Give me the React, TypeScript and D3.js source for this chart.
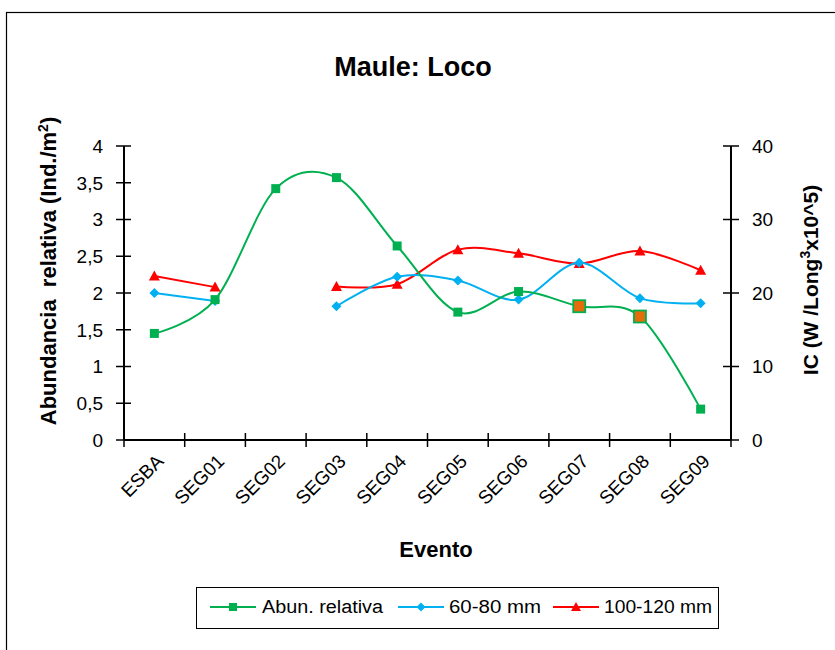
import React from "react";
import * as d3 from "d3";

const categories = ["ESBA", "SEG01", "SEG02", "SEG03", "SEG04", "SEG05", "SEG06", "SEG07", "SEG08", "SEG09"];
const abundancia: (number | null)[] = [1.45, 1.91, 3.42, 3.57, 2.64, 1.74, 2.02, 1.82, 1.68, 0.42];
const ic6080: (number | null)[] = [20.0, 18.9, null, 18.2, 22.2, 21.7, 19.1, 24.1, 19.3, 18.6];
const ic100120: (number | null)[] = [22.3, 20.8, null, 20.9, 21.2, 25.9, 25.4, 24.0, 25.7, 23.1];
const highlighted = ["SEG07", "SEG08"];
const leftTicks = [0, 0.5, 1, 1.5, 2, 2.5, 3, 3.5, 4];
const rightTicks = [0, 10, 20, 30, 40];
const seriesNames = ["Abun. relativa", "60-80 mm", "100-120 mm"];

const GREEN = "#00B050";
const BLUE = "#00B0F0";
const RED = "#FF0000";
const ORANGE = "#E46C0A";
const FONT = "'Liberation Sans', Arial, sans-serif";

export default function App() {
  const left = 124, right = 731, top = 146, bottom = 440;
  const x = d3.scaleBand<string>().domain(categories).range([left, right]);
  const cx = (c: string) => (x(c) as number) + x.bandwidth() / 2;
  const yL = d3.scaleLinear().domain([0, 4]).range([bottom, top]);
  const yR = d3.scaleLinear().domain([0, 40]).range([bottom, top]);

  type P = { c: string; v: number | null };
  const mk = (arr: (number | null)[]): P[] => categories.map((c, i) => ({ c, v: arr[i] }));
  const lineGen = (y: d3.ScaleLinear<number, number>) =>
    d3
      .line<P>()
      .defined((d) => d.v !== null)
      .x((d) => cx(d.c))
      .y((d) => y(d.v as number))
      .curve(d3.curveCardinal.tension(0));

  const green = mk(abundancia);
  const blue = mk(ic6080);
  const red = mk(ic100120);

  const fmt = (v: number) => String(v).replace(".", ",");

  const square = (px: number, py: number, s: number, fill: string, stroke?: string, key?: any) => (
    <rect key={key} x={px - s / 2} y={py - s / 2} width={s} height={s} fill={fill} stroke={stroke || "none"} strokeWidth={stroke ? 1.8 : 0} />
  );
  const diamond = (px: number, py: number, s: number, key?: any) => (
    <path key={key} d={`M${px},${py - s / 2}L${px + s / 2},${py}L${px},${py + s / 2}L${px - s / 2},${py}Z`} fill={BLUE} />
  );
  const triangle = (px: number, py: number, s: number, key?: any) => (
    <path key={key} d={`M${px},${py - s / 2 - 1}L${px + s / 2 + 1},${py + s / 2}L${px - s / 2 - 1},${py + s / 2}Z`} fill={RED} />
  );

  const legendY = 607;

  return (
    <svg width={835} height={650} style={{ position: "absolute", left: 0, top: 0, background: "#fff" }} fontFamily={FONT}>
      <rect x={6.5} y={12.5} width={840} height={660} fill="#fff" stroke="#000" strokeWidth={1.2} />
      <text x={413} y={76} textAnchor="middle" fontWeight="bold" fontSize={27}>
        Maule: Loco
      </text>

      {/* axes */}
      <line x1={left} x2={right} y1={bottom} y2={bottom} stroke="#000" strokeWidth={2} />
      <line x1={left} x2={left} y1={top} y2={bottom} stroke="#000" strokeWidth={2} />
      <line x1={right} x2={right} y1={top} y2={bottom} stroke="#000" strokeWidth={2} />
      {leftTicks.map((t) => (
        <g key={"l" + t}>
          <line x1={left - 8} x2={left + 7} y1={yL(t)} y2={yL(t)} stroke="#000" strokeWidth={1.5} />
          <text x={103} y={yL(t)} dy="0.36em" textAnchor="end" fontSize={19}>
            {fmt(t)}
          </text>
        </g>
      ))}
      {rightTicks.map((t) => (
        <g key={"r" + t}>
          <line x1={right - 8} x2={right + 8} y1={yR(t)} y2={yR(t)} stroke="#000" strokeWidth={1.5} />
          <text x={752} y={yR(t)} dy="0.36em" textAnchor="start" fontSize={19}>
            {t}
          </text>
        </g>
      ))}
      {categories.map((c, i) => (
        <line key={"xt" + i} x1={x(c) as number} x2={x(c) as number} y1={bottom - 7} y2={bottom + 7} stroke="#000" strokeWidth={1.5} />
      ))}
      <line x1={right} x2={right} y1={bottom - 7} y2={bottom + 7} stroke="#000" strokeWidth={1.5} />
      {categories.map((c) => (
        <text key={"xl" + c} transform={`translate(${cx(c) + 1},${bottom + 13}) rotate(-45)`} textAnchor="end" dy="0.7em" fontSize={19}>
          {c}
        </text>
      ))}

      {/* axis titles */}
      <text transform={`translate(56,271) rotate(-90)`} textAnchor="middle" fontWeight="bold" fontSize={22} style={{ whiteSpace: "pre" }}>
        {"Abundancia  relativa (Ind./m"}
        <tspan fontSize={14} dy="-8">2</tspan>
        <tspan dy="8">)</tspan>
      </text>
      <text transform={`translate(818,280) rotate(-90)`} textAnchor="middle" fontWeight="bold" fontSize={21} style={{ whiteSpace: "pre" }}>
        {"IC (W /Long"}
        <tspan fontSize={14} dy="-8">3</tspan>
        <tspan dy="8">x10^5)</tspan>
      </text>
      <text x={436} y={557} textAnchor="middle" fontWeight="bold" fontSize={22}>
        Evento
      </text>

      {/* lines */}
      <path d={lineGen(yR)(red) || ""} fill="none" stroke={RED} strokeWidth={2} />
      <path d={lineGen(yR)(blue) || ""} fill="none" stroke={BLUE} strokeWidth={2} />
      <path d={lineGen(yL)(green) || ""} fill="none" stroke={GREEN} strokeWidth={2} />

      {red.filter((d) => d.v !== null).map((d, i) => triangle(cx(d.c), yR(d.v as number), 9, "rt" + i))}
      {blue.filter((d) => d.v !== null).map((d, i) => diamond(cx(d.c), yR(d.v as number), 10, "bd" + i))}
      {green.filter((d) => d.v !== null).map((d, i) =>
        highlighted.includes(d.c)
          ? square(cx(d.c), yL(d.v as number), 12, ORANGE, GREEN, "gs" + i)
          : square(cx(d.c), yL(d.v as number), 9, GREEN, undefined, "gs" + i)
      )}

      {/* legend */}
      <rect x={196.5} y={587.5} width={522} height={41} fill="#fff" stroke="#000" strokeWidth={1} />
      <line x1={210} x2={256} y1={legendY} y2={legendY} stroke={GREEN} strokeWidth={2} />
      {square(233, legendY, 8, GREEN)}
      <text x={262} y={legendY} dy="0.36em" fontSize={18} textLength={121} lengthAdjust="spacingAndGlyphs">
        {seriesNames[0]}
      </text>
      <line x1={398} x2={444} y1={legendY} y2={legendY} stroke={BLUE} strokeWidth={2} />
      {diamond(421, legendY, 9)}
      <text x={449} y={legendY} dy="0.36em" fontSize={18} textLength={92} lengthAdjust="spacingAndGlyphs">
        {seriesNames[1]}
      </text>
      <line x1={553} x2={599} y1={legendY} y2={legendY} stroke={RED} strokeWidth={2} />
      {triangle(576, legendY, 8)}
      <text x={604} y={legendY} dy="0.36em" fontSize={18} textLength={108} lengthAdjust="spacingAndGlyphs">
        {seriesNames[2]}
      </text>
    </svg>
  );
}
